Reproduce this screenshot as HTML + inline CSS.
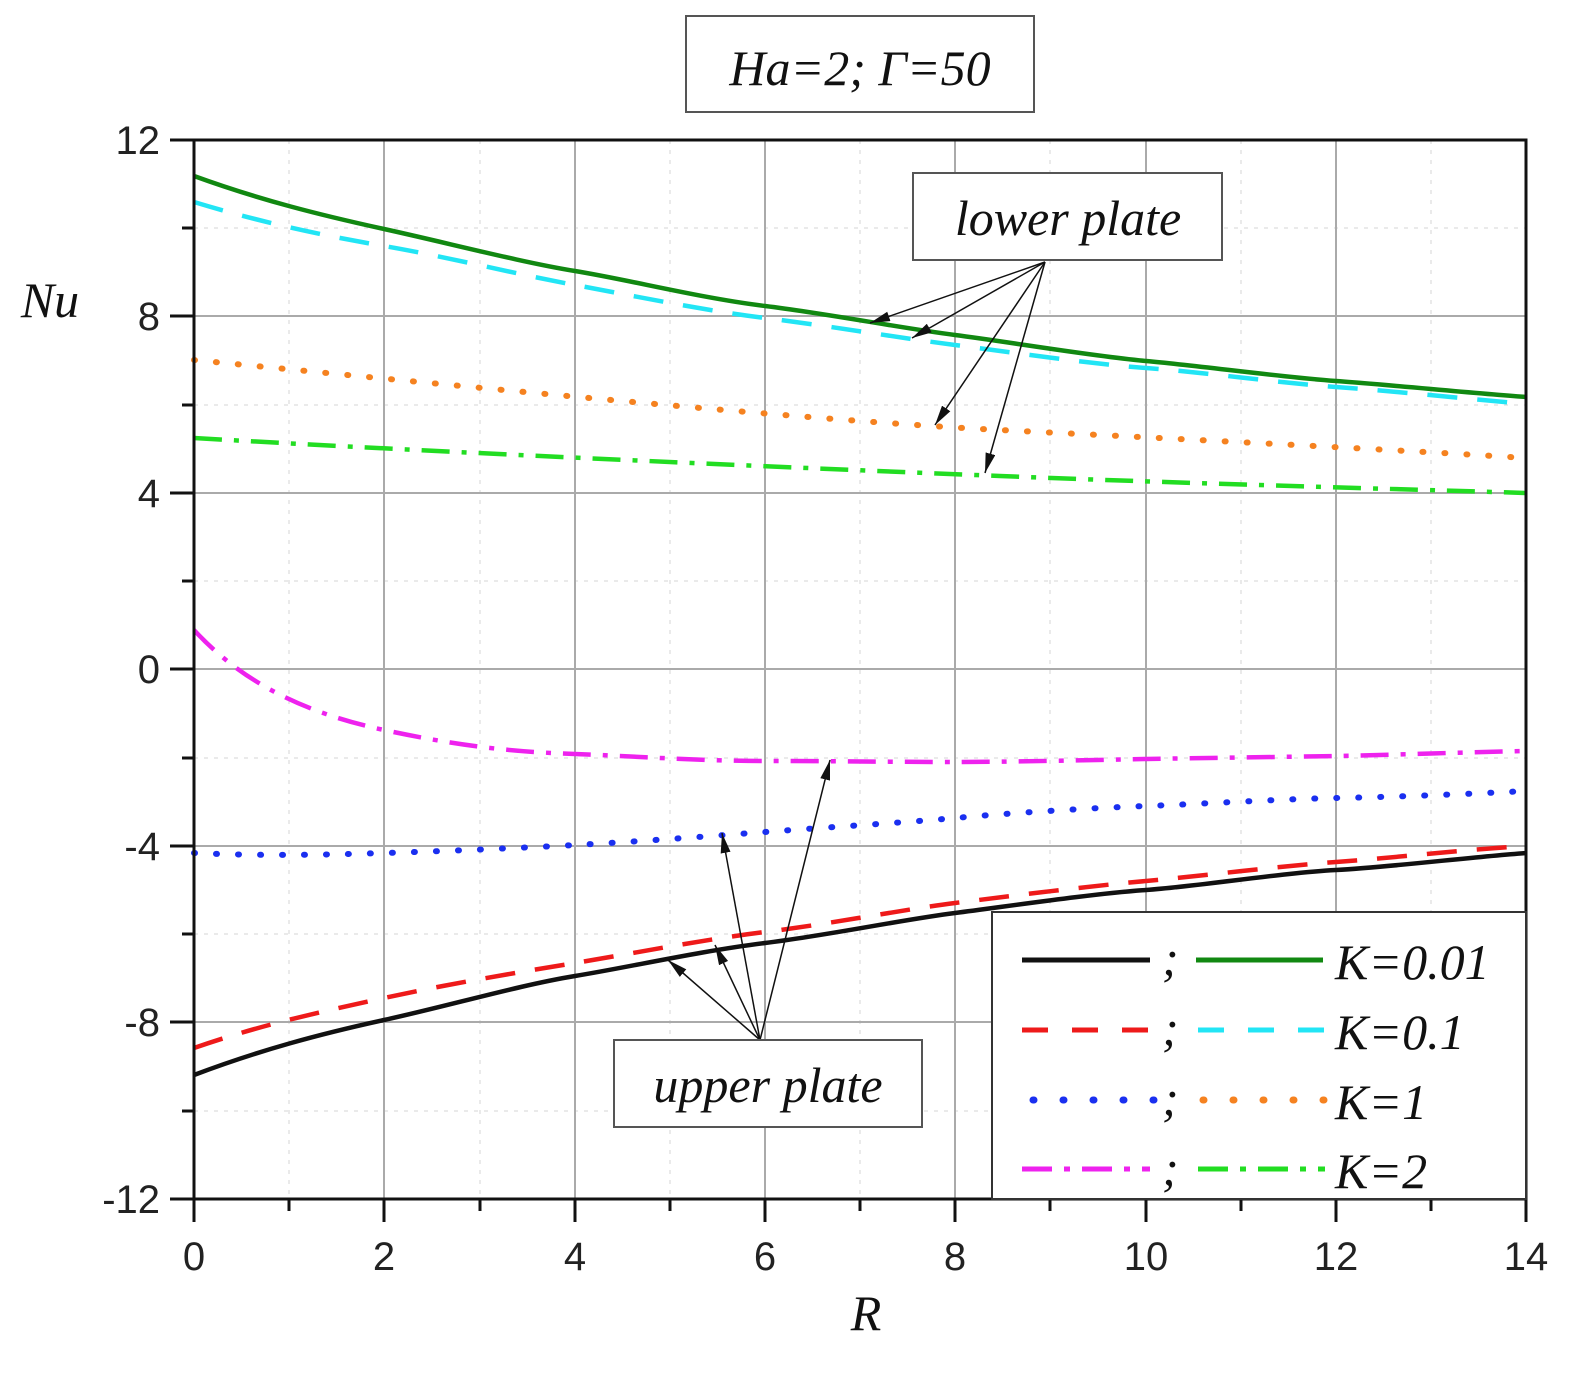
<!DOCTYPE html>
<html><head><meta charset="utf-8"><style>
html,body{margin:0;padding:0;background:#fff;}
svg{display:block;}
.t{font-family:"Liberation Sans",sans-serif;font-size:40px;fill:#222;}
.i{font-family:"Liberation Serif",serif;font-style:italic;font-size:50px;fill:#111;}
</style></head><body>
<svg width="1585" height="1375" viewBox="0 0 1585 1375" xmlns="http://www.w3.org/2000/svg">
<rect width="1585" height="1375" fill="#fff"/>
<g stroke="#ddd" stroke-width="1.2" stroke-dasharray="4,6">
<line x1="289" y1="140" x2="289" y2="1199"/><line x1="480" y1="140" x2="480" y2="1199"/>
<line x1="670" y1="140" x2="670" y2="1199"/><line x1="860" y1="140" x2="860" y2="1199"/>
<line x1="1050" y1="140" x2="1050" y2="1199"/><line x1="1241" y1="140" x2="1241" y2="1199"/>
<line x1="1431" y1="140" x2="1431" y2="1199"/>
<line x1="194" y1="228" x2="1526" y2="228"/><line x1="194" y1="405" x2="1526" y2="405"/>
<line x1="194" y1="581" x2="1526" y2="581"/><line x1="194" y1="758" x2="1526" y2="758"/>
<line x1="194" y1="934" x2="1526" y2="934"/><line x1="194" y1="1111" x2="1526" y2="1111"/>
</g>
<g stroke="#aaa" stroke-width="2">
<line x1="384" y1="140" x2="384" y2="1199"/><line x1="575" y1="140" x2="575" y2="1199"/>
<line x1="765" y1="140" x2="765" y2="1199"/><line x1="955" y1="140" x2="955" y2="1199"/>
<line x1="1146" y1="140" x2="1146" y2="1199"/><line x1="1336" y1="140" x2="1336" y2="1199"/>
<line x1="194" y1="316" x2="1526" y2="316"/><line x1="194" y1="493" x2="1526" y2="493"/>
<line x1="194" y1="669" x2="1526" y2="669"/><line x1="194" y1="846" x2="1526" y2="846"/>
<line x1="194" y1="1022" x2="1526" y2="1022"/>
</g>
<g fill="none" stroke-width="4.5">
<path stroke="#118811" d="M194,176 C260,200 320,215 384,229 S520,262 575,271 S700,298 765,306 S900,328 955,335 S1090,356 1146,361 S1280,377 1336,381 S1470,393 1526,397"/>
<path stroke="#22e5f5" stroke-dasharray="30,20" d="M194,202 C260,222 320,235 384,246 S520,275 575,285 S700,310 765,318 S900,338 955,345 S1090,364 1146,368 S1280,383 1336,387 S1470,399 1526,404"/>
<path stroke="#f58220" stroke-dasharray="1,21" stroke-linecap="round" stroke-width="6" d="M194,360 C450,385 800,420 1000,430 S1400,450 1526,458"/>
<path stroke="#22dd22" stroke-dasharray="28,12,5,12" d="M194,438 C450,453 800,468 1000,476 S1400,489 1526,493"/>
<path stroke="#ee22ee" stroke-dasharray="28,12,5,12" d="M194,630 C240,680 300,712 384,730 S520,752 575,754 S700,761 765,761 S900,762 955,762 S1090,760 1146,759 S1280,757 1336,756 S1470,752 1526,751"/>
<path stroke="#1a2ff0" stroke-dasharray="1,21" stroke-linecap="round" stroke-width="6" d="M194,853 C260,856 320,855 384,853 S520,848 575,845 S700,837 765,832 S900,823 955,818 S1090,808 1146,806 S1280,799 1336,798 S1470,794 1526,791"/>
<path stroke="#ee1a1a" stroke-dasharray="30,20" d="M194,1048 C260,1025 320,1012 384,998 S520,972 575,963 S700,940 765,932 S900,910 955,903 S1090,886 1146,881 S1280,866 1336,862 S1470,849 1526,846"/>
<path stroke="#111" d="M194,1075 C260,1050 320,1034 384,1020 S520,985 575,976 S700,951 765,943 S900,920 955,913 S1090,894 1146,890 S1280,873 1336,870 S1470,857 1526,853"/>
</g>
<rect x="194" y="140" width="1332" height="1059" fill="none" stroke="#111" stroke-width="3"/>
<g stroke="#111" stroke-width="3">
<line x1="170" y1="140" x2="194" y2="140"/><line x1="170" y1="316" x2="194" y2="316"/>
<line x1="170" y1="493" x2="194" y2="493"/><line x1="170" y1="669" x2="194" y2="669"/>
<line x1="170" y1="846" x2="194" y2="846"/><line x1="170" y1="1022" x2="194" y2="1022"/>
<line x1="170" y1="1199" x2="194" y2="1199"/>
<line x1="182" y1="228" x2="194" y2="228"/><line x1="182" y1="405" x2="194" y2="405"/>
<line x1="182" y1="581" x2="194" y2="581"/><line x1="182" y1="758" x2="194" y2="758"/>
<line x1="182" y1="934" x2="194" y2="934"/><line x1="182" y1="1111" x2="194" y2="1111"/>
<line x1="194" y1="1199" x2="194" y2="1222"/><line x1="384" y1="1199" x2="384" y2="1222"/>
<line x1="575" y1="1199" x2="575" y2="1222"/><line x1="765" y1="1199" x2="765" y2="1222"/>
<line x1="955" y1="1199" x2="955" y2="1222"/><line x1="1146" y1="1199" x2="1146" y2="1222"/>
<line x1="1336" y1="1199" x2="1336" y2="1222"/><line x1="1526" y1="1199" x2="1526" y2="1222"/>
<line x1="289" y1="1199" x2="289" y2="1211"/><line x1="480" y1="1199" x2="480" y2="1211"/>
<line x1="670" y1="1199" x2="670" y2="1211"/><line x1="860" y1="1199" x2="860" y2="1211"/>
<line x1="1050" y1="1199" x2="1050" y2="1211"/><line x1="1241" y1="1199" x2="1241" y2="1211"/>
<line x1="1431" y1="1199" x2="1431" y2="1211"/>
</g>
<g class="t" text-anchor="end">
<text x="160" y="154">12</text><text x="160" y="330">8</text><text x="160" y="507">4</text>
<text x="160" y="683">0</text><text x="160" y="860">-4</text><text x="160" y="1036">-8</text><text x="160" y="1213">-12</text>
</g>
<g class="t" text-anchor="middle">
<text x="194" y="1270">0</text><text x="384" y="1270">2</text><text x="575" y="1270">4</text>
<text x="765" y="1270">6</text><text x="955" y="1270">8</text><text x="1146" y="1270">10</text>
<text x="1336" y="1270">12</text><text x="1526" y="1270">14</text>
</g>
<text class="i" x="866" y="1330" text-anchor="middle">R</text>
<text class="i" x="50" y="317" text-anchor="middle">Nu</text>
<rect x="686" y="16" width="348" height="96" fill="#fff" stroke="#555" stroke-width="2"/>
<text class="i" x="860" y="85" text-anchor="middle">Ha=2; Γ=50</text>
<rect x="992" y="912" width="534" height="287" fill="#fff" stroke="#333" stroke-width="2"/>
<g stroke-width="5" fill="none">
<line x1="1022" y1="960" x2="1150" y2="960" stroke="#111"/>
<line x1="1196" y1="960" x2="1323" y2="960" stroke="#118811"/>
<line x1="1022" y1="1030" x2="1150" y2="1030" stroke="#ee1a1a" stroke-dasharray="26,24"/>
<line x1="1198" y1="1030" x2="1325" y2="1030" stroke="#22e5f5" stroke-dasharray="26,24"/>
<line x1="1033" y1="1100" x2="1155" y2="1100" stroke="#1a2ff0" stroke-dasharray="1,29" stroke-linecap="round" stroke-width="7"/>
<line x1="1203" y1="1100" x2="1325" y2="1100" stroke="#f58220" stroke-dasharray="1,29" stroke-linecap="round" stroke-width="7"/>
<line x1="1022" y1="1169" x2="1150" y2="1169" stroke="#ee22ee" stroke-dasharray="30,12,6,12"/>
<line x1="1198" y1="1169" x2="1325" y2="1169" stroke="#22dd22" stroke-dasharray="30,12,6,12"/>
</g>
<g class="i"><text x="1162" y="975">;</text><text x="1162" y="1045">;</text><text x="1162" y="1115">;</text><text x="1162" y="1185">;</text>
<text x="1335" y="979">K=0.01</text><text x="1335" y="1049">K=0.1</text><text x="1335" y="1119">K=1</text><text x="1335" y="1188">K=2</text></g>
<defs><marker id="b" viewBox="0 0 20 10" markerWidth="20" markerHeight="10" refX="20" refY="5" orient="auto" markerUnits="userSpaceOnUse"><path d="M0,0 L20,5 L0,10 z" fill="#111"/></marker></defs>
<g stroke="#111" stroke-width="1.5" marker-end="url(#b)">
<line x1="1045" y1="262" x2="870" y2="323"/><line x1="1045" y1="262" x2="912" y2="338"/>
<line x1="1045" y1="262" x2="935" y2="425"/><line x1="1045" y1="262" x2="985" y2="473"/>
<line x1="760" y1="1040" x2="668" y2="960"/><line x1="760" y1="1040" x2="715" y2="945"/>
<line x1="760" y1="1040" x2="722" y2="833"/><line x1="760" y1="1040" x2="830" y2="760"/>
</g>
<rect x="913" y="173" width="309" height="87" fill="#fff" stroke="#555" stroke-width="2"/>
<text class="i" x="1068" y="235" text-anchor="middle">lower plate</text>
<rect x="614" y="1040" width="308" height="87" fill="#fff" stroke="#555" stroke-width="2"/>
<text class="i" x="768" y="1102" text-anchor="middle">upper plate</text>
</svg>
</body></html>
